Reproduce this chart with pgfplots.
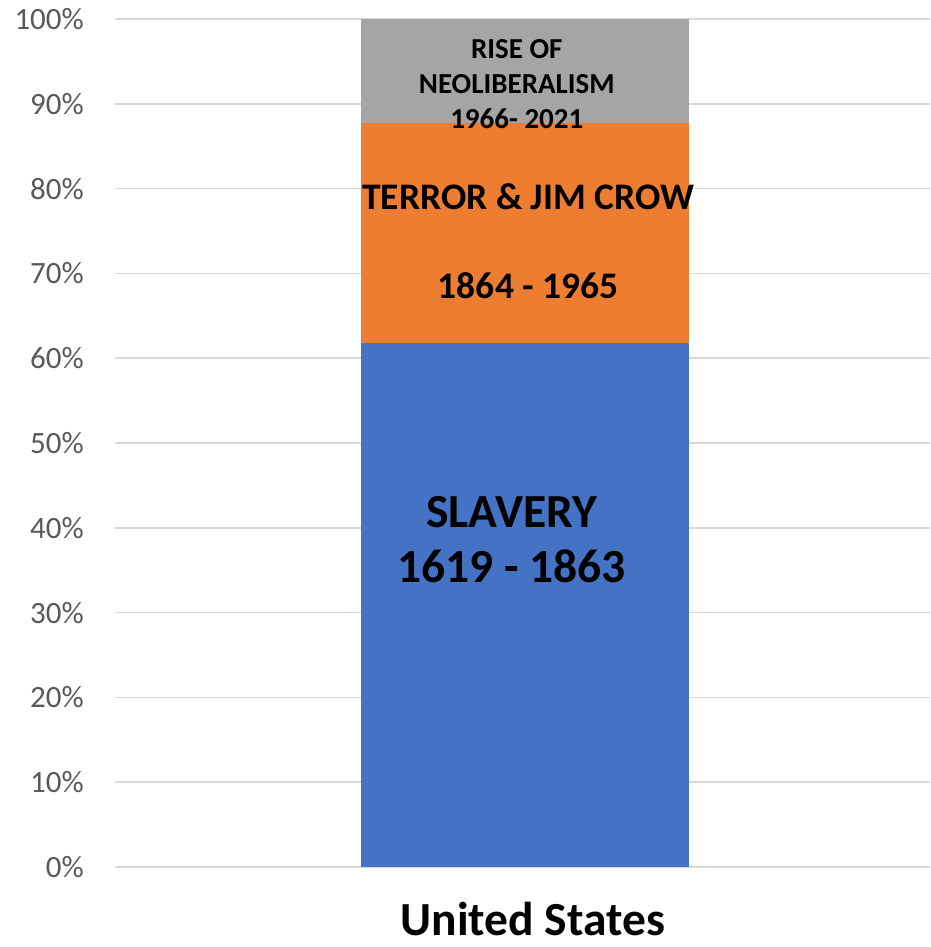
\documentclass[border=0pt]{standalone}
\usepackage{fontspec}
\setmainfont{Carlito}
\usepackage{pgfplots}
\pgfplotsset{compat=1.18}
\definecolor{cblue}{HTML}{4472C4}
\definecolor{corange}{HTML}{ED7D31}
\definecolor{cgray}{HTML}{A5A5A5}
\definecolor{cgrid}{HTML}{D9D9D9}
\definecolor{ctick}{HTML}{595959}
\newcommand{\shlabel}[3]{% coordinate, size, text
  \node[anchor=base, inner sep=0pt, text=black] at (#1) {\fontsize{#2}{#2}\selectfont\bfseries #3};
}
\begin{document}
\begin{tikzpicture}
\begin{axis}[
  scale only axis,
  width=815pt, height=848pt,
  xmin=-1.006, xmax=0.994,
  ymin=0, ymax=100,
  ybar stacked,
  bar width=0.805,
  axis line style={draw=none},
  tick style={draw=none},
  ymajorgrids,
  major grid style={color=cgrid, line width=1.6pt},
  ytick={0,10,...,100},
  yticklabel={\pgfmathprintnumber{\tick}\%},
  /pgf/number format/assume math mode=true,
  yticklabel style={font=\fontsize{31}{31}\selectfont, text=ctick, inner sep=0pt, xshift=-31pt},
  xtick={0},
  xticklabels={United States},
  xticklabel style={font=\fontsize{47.5}{47.5}\selectfont\bfseries, text=black, anchor=base, inner sep=0pt, yshift=-68pt, xshift=8pt},
  clip=false,
]
\addplot[fill=cblue, draw=none] coordinates {(0,61.8)};
\addplot[fill=corange, draw=none] coordinates {(0,25.9)};
\addplot[fill=cgray, draw=none] coordinates {(0,12.3)};
\coordinate (l1) at (axis cs:-0.033,40.0);
\coordinate (l2) at (axis cs:-0.033,33.6);
\coordinate (l3) at (axis cs:0.008,77.5);
\coordinate (l4) at (axis cs:0.008,67.0);
\coordinate (l5) at (axis cs:-0.02,95.3);
\coordinate (l6) at (axis cs:-0.02,91.2);
\coordinate (l7) at (axis cs:-0.02,87.1);
\coordinate (bl) at (rel axis cs:0,0);
\coordinate (tr) at (rel axis cs:1,1);
\end{axis}
\shlabel{l1}{47.5}{SLAVERY}
\shlabel{l2}{47.5}{1619 - 1863}
\shlabel{l3}{37.5}{TERROR \& JIM CROW}
\shlabel{l4}{37.5}{1864 - 1965}
\shlabel{l5}{29}{RISE OF}
\shlabel{l6}{29}{NEOLIBERALISM}
\shlabel{l7}{29}{1966- 2021}
\path (bl) ++(-115pt,-80pt) coordinate (p1);
\path (tr) ++(0pt,19pt) coordinate (p2);
\path (p1) rectangle (p2);
\end{tikzpicture}
\end{document}
